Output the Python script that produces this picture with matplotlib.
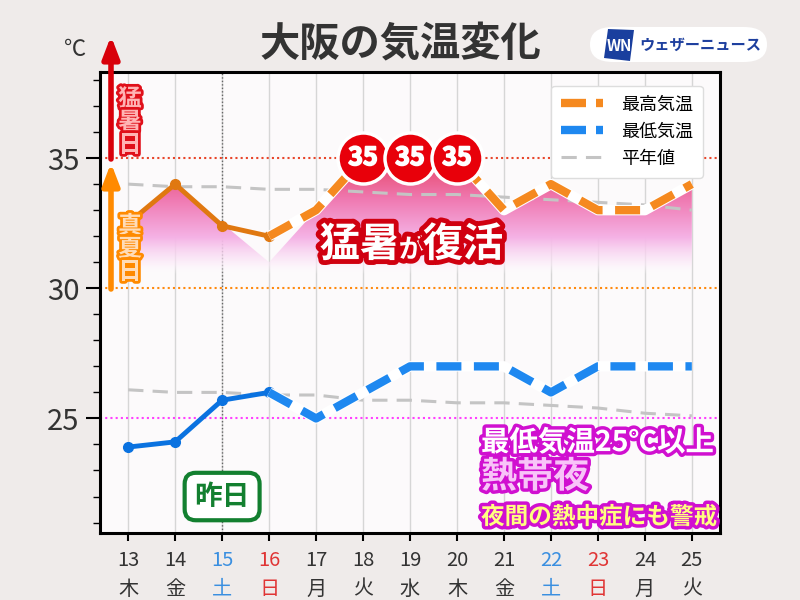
import matplotlib
matplotlib.use("Agg")
import matplotlib.pyplot as plt
import matplotlib.patheffects as pe
import numpy as np
from matplotlib.patches import Polygon, FancyBboxPatch
from matplotlib.lines import Line2D
from matplotlib.colors import LinearSegmentedColormap

plt.rcParams['font.family'] = ['Noto Sans CJK JP', 'DejaVu Sans']

# data
days = [13, 14, 15, 16, 17, 18, 19, 20, 21, 22, 23, 24, 25]
weekdays = ['木', '金', '土', '日', '月', '火', '水', '木', '金', '土', '日', '月', '火']
high = [32.5, 34.0, 32.4, 32.0, 33, 35, 35, 35, 33, 34, 33, 33, 34]
low = [23.9, 24.1, 25.7, 26.0, 25, 26, 27, 27, 27, 26, 27, 27, 27]
high_normal = [34.0, 33.9, 33.9, 33.8, 33.8, 33.7, 33.6, 33.6, 33.5, 33.4, 33.3, 33.2, 33.0]
low_normal = [26.1, 26.0, 26.0, 25.9, 25.9, 25.7, 25.7, 25.6, 25.6, 25.5, 25.4, 25.2, 25.1]
fill_days = [13, 14, 16, 17, 18, 19, 20, 21, 22, 23, 24, 25]
fill_vals = [32.5, 34.0, 31.0, 33, 35, 35, 35, 33, 34, 33, 33, 34]
n_observed = 4  # 13..16 observed, rest forecast
circle_days = [18, 19, 20]
circle_vals = [35, 35, 35]
tick_colors = {'土': '#3a8fe0', '日': '#e03535'}

bg = '#efebea'
fig = plt.figure(figsize=(8, 6), dpi=100, facecolor=bg)
ax = fig.add_axes([0.125, 0.1117, 0.775, 0.768])
ax.set_facecolor('#fcfafb')

# vertical grid
for d in days:
    ax.axvline(d, color='#d6d6d6', lw=1, zorder=0.5)
ax.axvline(15, color='#666666', lw=1, ls=(0, (1, 1.5)), zorder=0.6)

# gradient fill under max temp
cmap = LinearSegmentedColormap.from_list('hot', [
    (0.0, (1, 1, 1, 0)),
    (0.08, (0.99, 0.93, 0.98, 0.6)),
    (0.3, (0.96, 0.70, 0.90, 1)),
    (0.6, (0.94, 0.48, 0.70, 1)),
    (1.0, (0.90, 0.22, 0.34, 1)),
])
grad = np.linspace(0, 1, 256).reshape(-1, 1)
im = ax.imshow(grad, cmap=cmap, aspect='auto', origin='lower',
               extent=[12.4, 25.6, 30.5, 35.3], zorder=1)
poly = Polygon(list(zip(fill_days, fill_vals)) + [(25, 30.5), (13, 30.5)],
               closed=True, facecolor='none', edgecolor='none')
ax.add_patch(poly)
im.set_clip_path(poly)

# reference lines
ax.axhline(35, color='#e8452a', lw=1.5, ls=(0, (1, 1.5)), zorder=1.5)
ax.axhline(30, color='#ff8a10', lw=1.5, ls=(0, (1, 1.5)), zorder=1.5)
ax.axhline(25, color='#ff40ff', lw=1.5, ls=(0, (1, 1.5)), zorder=1.5)

# normal values
ax.plot(days, high_normal, color='#c4c4c4', lw=2.2, ls=(0, (5, 3)), zorder=2)
ax.plot(days, low_normal, color='#c4c4c4', lw=2.2, ls=(0, (5, 3)), zorder=2)

# max temp
k = n_observed
ax.plot(days[:k], high[:k], color='#e07810', lw=3.5, marker='o', ms=7, zorder=3)
ax.plot(days[k - 1:], high[k - 1:], color='white', lw=7.5, zorder=3, solid_capstyle='butt')
ax.plot(days[k - 1:], high[k - 1:], color='#f5891f', lw=6, ls=(0, (3, 1.5)), zorder=3.1)
# min temp
ax.plot(days[:k], low[:k], color='#0a72e0', lw=3.5, marker='o', ms=7, zorder=3)
ax.plot(days[k - 1:], low[k - 1:], color='white', lw=7.5, zorder=3, solid_capstyle='butt')
ax.plot(days[k - 1:], low[k - 1:], color='#1e88f0', lw=6, ls=(0, (3, 1.5)), zorder=3.1)

# 35 circles
ax.scatter(circle_days, circle_vals, s=1350, color='#e8000a', edgecolor='white', lw=2.5, zorder=4)
for d, v in zip(circle_days, circle_vals):
    ax.text(d, v, str(v), color='white', fontsize=18, fontweight='bold',
            ha='center', va='center', zorder=5,
            path_effects=[pe.withStroke(linewidth=1.2, foreground='white')])

# axes setup
ax.set_xlim(12.4, 25.6)
ax.set_ylim(20.6, 38.3)
ax.set_xticks(days)
ax.set_xticklabels([f'{d}\n{w}' for d, w in zip(days, weekdays)], fontsize=14.5,
                   linespacing=1.5, color='#333333')
for lab, w in zip(ax.get_xticklabels(), weekdays):
    if w in tick_colors:
        lab.set_color(tick_colors[w])
ax.set_yticks([25, 30, 35])
ax.set_yticklabels(['25', '30', '35'], fontsize=21, color='#333333')
ax.set_yticks(np.arange(21, 39), minor=True)
ax.tick_params(axis='y', which='major', length=10, width=1.5, pad=5)
ax.tick_params(axis='y', which='minor', length=5, width=1)
ax.tick_params(axis='x', length=6, width=1.5, pad=6)
for s in ax.spines.values():
    s.set_color('black')
    s.set_linewidth(2.2)

# legend
handles = [
    Line2D([], [], color='#f5891f', lw=6, ls=(0, (3, 1.2))),
    Line2D([], [], color='#1e88f0', lw=6, ls=(0, (3, 1.2))),
    Line2D([], [], color='#c4c4c4', lw=2.2, ls=(0, (5, 3))),
]
leg = ax.legend(handles, ['最高気温', '最低気温', '平年値'], loc='upper right',
                fontsize=13, handlelength=2.3, handletextpad=1.0,
                borderpad=0.55, labelspacing=0.5, framealpha=1,
                edgecolor='#dddddd', fancybox=True,
                bbox_to_anchor=(0.987, 0.99))
leg.set_zorder(6)

# title and unit
fig.text(0.5, 1 - 45 / 600, '大阪の気温変化', fontsize=29, fontweight='bold',
         color='#333333', ha='center', va='center')
fig.text(75 / 800, 1 - 50 / 600, '℃', fontsize=16, color='#333333', ha='center', va='center')

# logo
fig.patches.append(FancyBboxPatch((590 / 800, 1 - 62 / 600), 177 / 800, 35 / 600,
                                  boxstyle='round,pad=0,rounding_size=0.029',
                                  transform=fig.transFigure, facecolor='white',
                                  edgecolor='none'))
fig.patches.append(Polygon([(604 / 800, 1 - 58 / 600), (608 / 800, 1 - 29 / 600),
                            (634 / 800, 1 - 30 / 600), (630 / 800, 1 - 61 / 600)],
                           closed=True, transform=fig.transFigure, facecolor='#1a3f9e'))
fig.text(619 / 800, 1 - 46 / 600, 'WN', fontsize=11, fontstyle='italic', fontweight='bold',
         color='white', ha='center', va='center')
fig.text(639 / 800, 1 - 45 / 600, 'ウェザーニュース', fontsize=11, fontweight='bold',
         color='#1d3f9e', ha='left', va='center')

# arrows on the left
ax.annotate('', xy=(111, 600 - 36), xytext=(111, 600 - 159), xycoords='figure pixels',
            textcoords='figure pixels', annotation_clip=False,
            arrowprops=dict(arrowstyle='-|>,head_length=0.65,head_width=0.25', lw=4,
                            color='#d8000a', mutation_scale=20, shrinkA=0, shrinkB=0))
ax.annotate('', xy=(111, 600 - 163), xytext=(111, 600 - 289), xycoords='figure pixels',
            textcoords='figure pixels', annotation_clip=False,
            arrowprops=dict(arrowstyle='-|>,head_length=0.65,head_width=0.25', lw=4,
                            color='#ff8a00', mutation_scale=20, shrinkA=0, shrinkB=0))
fig.text(130 / 800, 1 - 122 / 600, '猛\n暑\n日', fontsize=17, fontweight='bold',
         color='#ffb4b4', ha='center', va='center', linespacing=0.95, zorder=7,
         path_effects=[pe.withStroke(linewidth=4, foreground='#e0101a')])
fig.text(130 / 800, 1 - 249 / 600, '真\n夏\n日', fontsize=17, fontweight='bold',
         color='#ffdcb8', ha='center', va='center', linespacing=0.95, zorder=7,
         path_effects=[pe.withStroke(linewidth=4, foreground='#ff8a00')])

# 猛暑が復活
red_stroke = [pe.withStroke(linewidth=7, foreground='#d00010')]
fig.text(360 / 800, 1 - 245 / 600, '猛暑', fontsize=29, fontweight='bold', color='white',
         ha='center', va='center', zorder=7, path_effects=red_stroke)
fig.text(412 / 800, 1 - 250 / 600, 'が', fontsize=19, fontweight='bold', color='white',
         ha='center', va='center', zorder=7, path_effects=red_stroke)
fig.text(463 / 800, 1 - 245 / 600, '復活', fontsize=29, fontweight='bold', color='white',
         ha='center', va='center', zorder=7, path_effects=red_stroke)

# 昨日
ax.text(15, 22.0, '昨日', fontsize=20, fontweight='bold', color='#138030',
        ha='center', va='center', zorder=7,
        bbox=dict(boxstyle='round,pad=0.35,rounding_size=0.4', facecolor='white',
                  edgecolor='#138030', lw=3))

# 熱帯夜 note
mag_stroke = [pe.withStroke(linewidth=5, foreground='#d010d0')]
fig.text(481 / 800, 1 - 443 / 600, '最低気温25℃以上', fontsize=20.5, fontweight='bold',
         color='white', ha='left', va='center', zorder=7, path_effects=mag_stroke)
fig.text(481 / 800, 1 - 477 / 600, '熱帯夜', fontsize=26, fontweight='bold',
         color='#f8c4f8', ha='left', va='center', zorder=7, path_effects=mag_stroke)
fig.text(481 / 800, 1 - 517 / 600, '夜間の熱中症にも警戒', fontsize=17, fontweight='bold',
         color='#ffff80', ha='left', va='center', zorder=7, path_effects=mag_stroke)

fig.savefig('out.png', dpi=100, facecolor=bg)
